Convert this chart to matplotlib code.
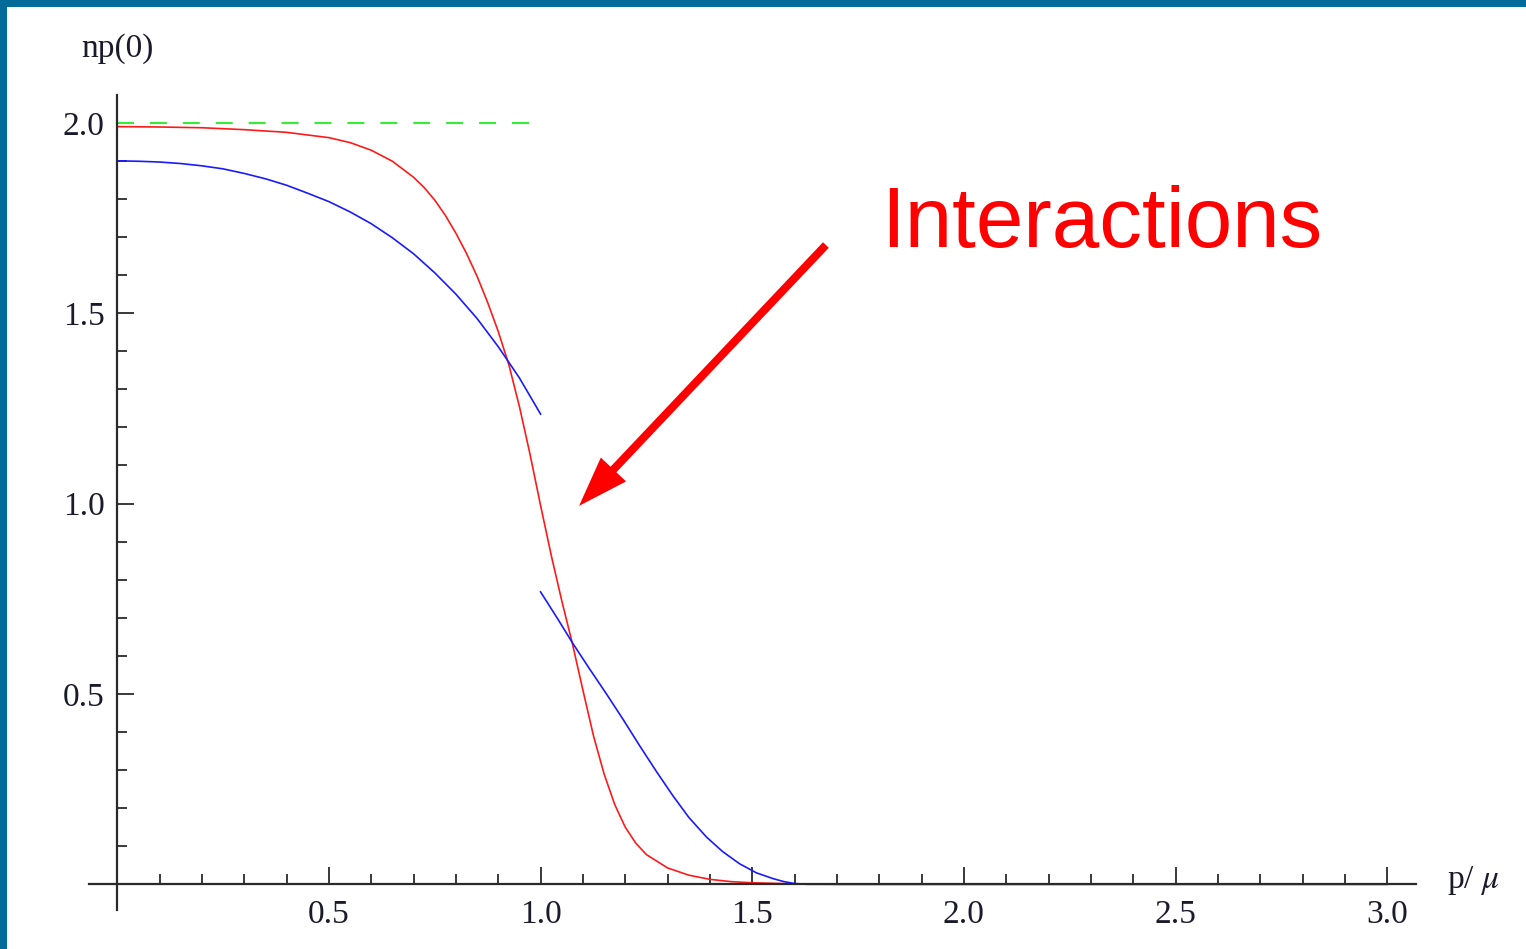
import matplotlib.pyplot as plt
from matplotlib.patches import Rectangle, FancyArrowPatch
from matplotlib.ticker import FixedLocator, MultipleLocator, FormatStrFormatter

plt.rcParams['font.family'] = ['Liberation Serif', 'DejaVu Serif']
plt.rcParams['mathtext.fontset'] = 'stix'
plt.rcParams['lines.scale_dashes'] = False

# red curve (interacting)
red_p = [0.0, 0.1, 0.2, 0.3, 0.4, 0.5, 0.55, 0.6, 0.65, 0.7, 0.725, 0.75, 0.775,
         0.8, 0.825, 0.85, 0.875, 0.9, 0.925, 0.95, 0.975, 1.0, 1.025, 1.05,
         1.075, 1.1, 1.125, 1.15, 1.175, 1.2, 1.225, 1.25, 1.3, 1.35, 1.4, 1.45,
         1.5, 1.6, 1.7, 3.0]
red_n = [1.990, 1.989, 1.987, 1.982, 1.975, 1.961, 1.948, 1.928, 1.899, 1.857,
         1.830, 1.797, 1.757, 1.710, 1.657, 1.597, 1.528, 1.452, 1.365, 1.255,
         1.130, 0.995, 0.865, 0.745, 0.633, 0.510, 0.390, 0.290, 0.210, 0.150,
         0.108, 0.078, 0.043, 0.024, 0.013, 0.007, 0.004, 0.001, 0.0, 0.0]

# blue curve, two branches (below and above the Fermi momentum)
blue_low_p = [0.0, 0.05, 0.1, 0.15, 0.2, 0.25, 0.3, 0.35, 0.4, 0.45, 0.5, 0.55,
              0.6, 0.65, 0.7, 0.75, 0.8, 0.85, 0.9, 0.95, 1.0]
blue_low_n = [1.900, 1.899, 1.897, 1.893, 1.887, 1.879, 1.867, 1.853, 1.836,
              1.815, 1.793, 1.766, 1.735, 1.698, 1.656, 1.606, 1.550, 1.486,
              1.412, 1.330, 1.235]
blue_high_p = [1.0, 1.04, 1.076, 1.115, 1.155, 1.195, 1.234, 1.275, 1.313, 1.35,
               1.392, 1.43, 1.47, 1.51, 1.549, 1.575, 1.6, 1.63, 3.0]
blue_high_n = [0.768, 0.698, 0.633, 0.567, 0.501, 0.433, 0.364, 0.294, 0.232,
               0.176, 0.124, 0.086, 0.054, 0.030, 0.015, 0.007, 0.002, 0.0, 0.0]

# free gas reference
green_p = [0.0, 1.0]
green_n = [2.0, 2.0]

x_major = [0.5, 1.0, 1.5, 2.0, 2.5, 3.0]
y_major = [0.5, 1.0, 1.5, 2.0]

axis_color = '#2a2a2a'
text_color = '#1a1a2a'

fig = plt.figure(figsize=(15.26, 9.49), dpi=100)
fig.patch.set_facecolor('white')

# blue slide frame on the left and top
fig.add_artist(Rectangle((0, 0), 7 / 1526, 1, transform=fig.transFigure,
                         color='#006b99', lw=0))
fig.add_artist(Rectangle((0, 1 - 7 / 949), 1, 7 / 949, transform=fig.transFigure,
                         color='#006b99', lw=0))

ax = fig.add_axes([0.05852, 0.04110, 0.86940, 0.85879])
ax.set_xlim(-0.066, 3.068)
ax.set_ylim(-0.0675, 2.073)

ax.plot(green_p, green_n, color='#33ee33', lw=1.5, dashes=(12.2, 11.5))
ax.plot(red_p, red_n, color='#ff1a1a', lw=1.2)
ax.plot(blue_low_p, blue_low_n, color='#1a1aff', lw=1.2)
ax.plot(blue_high_p, blue_high_n, color='#1a1aff', lw=1.2)

for side in ['top', 'right']:
    ax.spines[side].set_visible(False)
for side in ['left', 'bottom']:
    ax.spines[side].set_position(('data', 0))
    ax.spines[side].set_color(axis_color)
    ax.spines[side].set_linewidth(1.6)

ax.xaxis.set_major_locator(FixedLocator(x_major))
ax.yaxis.set_major_locator(FixedLocator(y_major))
ax.xaxis.set_minor_locator(MultipleLocator(0.1))
ax.yaxis.set_minor_locator(MultipleLocator(0.1))
ax.xaxis.set_major_formatter(FormatStrFormatter('%.1f'))
ax.yaxis.set_major_formatter(FormatStrFormatter('%.1f'))

ax.tick_params(which='both', direction='in', color=axis_color, width=1.3,
               labelsize=24, labelcolor=text_color)
ax.tick_params(which='major', length=12)
ax.tick_params(which='minor', length=7)
ax.tick_params(axis='x', which='major', pad=11)
ax.tick_params(axis='y', which='major', pad=9)

ax.text(0, 2.194, 'np(0)', ha='center', va='center', fontsize=24,
        color=text_color, clip_on=False)
ax.text(3.141, -0.01, r'p/ $\mu$', ha='left', va='baseline', fontsize=24,
        color=text_color, clip_on=False)

ax.text(1.804, 1.674, 'Interactions', ha='left', va='baseline', fontsize=61.5,
        color='#ff0000', family=['Liberation Sans', 'DejaVu Sans'])
ax.add_patch(FancyArrowPatch((1.674, 1.679), (1.091, 0.994),
                             arrowstyle='simple,head_length=36,head_width=25,tail_width=5.8',
                             mutation_scale=1, color='#ff0000', lw=0,
                             shrinkA=0, shrinkB=0, clip_on=False))

fig.savefig('out.png', dpi=100)
plt.close(fig)
